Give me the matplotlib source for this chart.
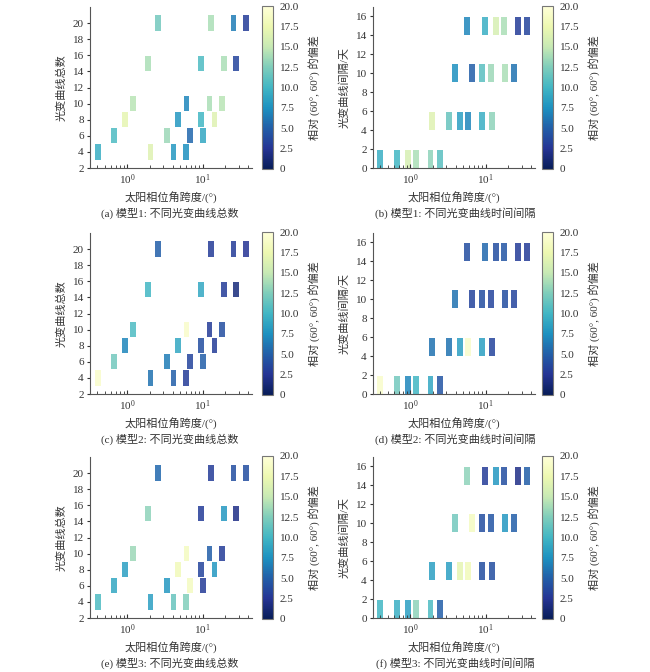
import numpy as np
import matplotlib
matplotlib.use("Agg")
import matplotlib.pyplot as plt
from matplotlib import cm, colors

plt.rcParams['font.family'] = ['Liberation Serif', 'Noto Sans CJK SC']
plt.rcParams['mathtext.fontset'] = 'custom'
plt.rcParams['mathtext.rm'] = 'Liberation Serif'
plt.rcParams['mathtext.it'] = 'Liberation Serif:italic'
plt.rcParams['font.size'] = 8
plt.rcParams['axes.unicode_minus'] = False

# rows of panels (a)(c)(e): total number of light curves
count_rows = [4, 6, 8, 10, 15, 20]
count_span = [
    [0.41, 2.03, 4.1, 6.06],
    [0.66, 3.4, 6.8, 10.2],
    [0.94, 4.7, 9.6, 14.3],
    [1.19, 6.1, 12.3, 18.1],
    [1.9, 9.6, 18.9, 27.8],
    [2.56, 12.9, 25.6, 37.0],
]
# rows of panels (b)(d)(f): interval between light curves / day
interval_rows = [1, 5, 10, 15]
interval_span = [
    [0.40, 0.67, 0.93, 1.19, 1.85, 2.5],
    [1.95, 3.26, 4.55, 5.8, 9.0, 12.2],
    [3.9, 6.5, 9.0, 11.6, 18.0, 24.0],
    [5.7, 9.7, 13.5, 17.3, 26.6, 35.0],
]

dev_a = [[9.5, 16.5, 8, 7.5], [10.5, 13.5, 5.5, 9], [17, 8, 10, 16.5],
         [14.5, 7, 14, 14.5], [14, 10.5, 14, 3.5], [12, 14, 6.5, 3]]
dev_b = [[9.5, 10, 16, 14, 13, 11], [16.5, 11.5, 8.5, 7, 9.5, 13],
         [7.5, 5, 11, 13.5, 14, 6], [7, 9.5, 16, 14, 3, 3.5]]
dev_c = [[19, 6, 5, 3], [12, 6.5, 3.5, 5], [7, 9, 4, 3],
         [10.5, 19, 3, 4], [10, 9, 3, 1.5], [5, 3, 3, 2.5]]
dev_d = [[19, 12, 7, 10, 9, 4.5], [6, 6, 8.5, 19, 8.5, 3.5],
         [6, 3.5, 4, 3.5, 4, 3.5], [4, 5.5, 4, 4.5, 3, 3]]
dev_e = [[10.5, 8.5, 11.5, 12.5], [9, 8, 18.5, 3], [8.5, 18, 3.5, 8],
         [13.5, 18.5, 5, 3], [13, 3, 8, 2], [5.5, 3, 4, 4]]
dev_f = [[10, 9.5, 8.5, 13, 10.5, 5], [8.5, 8.5, 17, 18, 4, 4],
         [12, 18.5, 4, 4.5, 8, 5], [13, 3, 8, 4, 2, 5]]

captions = ['(a) 模型1: 不同光变曲线总数', '(b) 模型1: 不同光变曲线时间间隔',
            '(c) 模型2: 不同光变曲线总数', '(d) 模型2: 不同光变曲线时间间隔',
            '(e) 模型3: 不同光变曲线总数', '(f) 模型3: 不同光变曲线时间间隔']
cb_ticks = [0, 2.5, 5, 7.5, 10, 12.5, 15, 17.5, 20]
cb_labels = ['0', '2.5', '5.0', '7.5', '10.0', '12.5', '15.0', '17.5', '20.0']

cmap = plt.get_cmap('YlGnBu_r')
norm = colors.Normalize(0, 20)

W, H = 650, 672
fig = plt.figure(figsize=(6.5, 6.72), dpi=100)

half_w = 0.039  # half width of a box in decades
box_h = 1.9


def draw_panel(ax, rows, spans, devs):
    for y, xs, vs in zip(rows, spans, devs):
        xs = np.array(xs)
        left = xs * 10 ** (-half_w)
        right = xs * 10 ** half_w
        ax.bar(left, box_h, width=right - left, bottom=y - box_h / 2,
               align='edge', color=cmap(norm(np.array(vs))), alpha=0.85,
               linewidth=0)


panels = [
    (count_rows, count_span, dev_a, '光变曲线总数'),
    (interval_rows, interval_span, dev_b, '光变曲线间隔/天'),
    (count_rows, count_span, dev_c, '光变曲线总数'),
    (interval_rows, interval_span, dev_d, '光变曲线间隔/天'),
    (count_rows, count_span, dev_e, '光变曲线总数'),
    (interval_rows, interval_span, dev_f, '光变曲线间隔/天'),
]

col_x = [90, 373]
cb_x = [262, 542]
cap_x = [170, 455]
row_bottom = [168, 394, 618]
ax_w, ax_h = 162, 161

for i, (rows, spans, devs, ylab) in enumerate(panels):
    r, c = divmod(i, 2)
    b = row_bottom[r]
    ax = fig.add_axes([col_x[c] / W, 1 - b / H, ax_w / W, ax_h / H])
    draw_panel(ax, rows, spans, devs)
    ax.set_xscale('log')
    ax.set_xlim(0.32, 45)
    if c == 0:
        ax.set_ylim(2, 22)
        ax.set_yticks(np.arange(2, 21, 2))
    else:
        ax.set_ylim(0, 17)
        ax.set_yticks(np.arange(0, 17, 2))
    for s in ['top', 'right']:
        ax.spines[s].set_visible(False)
    for s in ['left', 'bottom']:
        ax.spines[s].set_color('#555555')
        ax.spines[s].set_linewidth(0.8)
    ax.tick_params(axis='x', which='both', direction='in', colors='#333333')
    ax.tick_params(axis='x', which='major', length=3)
    ax.tick_params(axis='x', which='minor', length=2)
    ax.tick_params(axis='y', direction='out', length=2.5, colors='#333333', pad=2)
    ax.set_xlabel('太阳相位角跨度/(°)', labelpad=3, color='#333333')
    ax.set_ylabel(ylab, labelpad=4, color='#333333')

    cax = fig.add_axes([cb_x[c] / W, 1 - (b + 1) / H, 11 / W, 163 / H])
    sm = cm.ScalarMappable(norm=norm, cmap=cmap)
    cb = fig.colorbar(sm, cax=cax)
    cb.set_ticks(cb_ticks)
    cb.set_ticklabels(cb_labels)
    cb.ax.tick_params(length=0, pad=5, colors='#333333')
    cb.outline.set_edgecolor('#777777')
    cb.outline.set_linewidth(0.8)
    cb.set_label('相对 (60°, 60°) 的偏差', labelpad=6, color='#333333')

    fig.text(cap_x[c] / W, 1 - (b + 45) / H, captions[i], ha='center',
             va='center', color='#333333')

fig.savefig('out.png', dpi=100)
